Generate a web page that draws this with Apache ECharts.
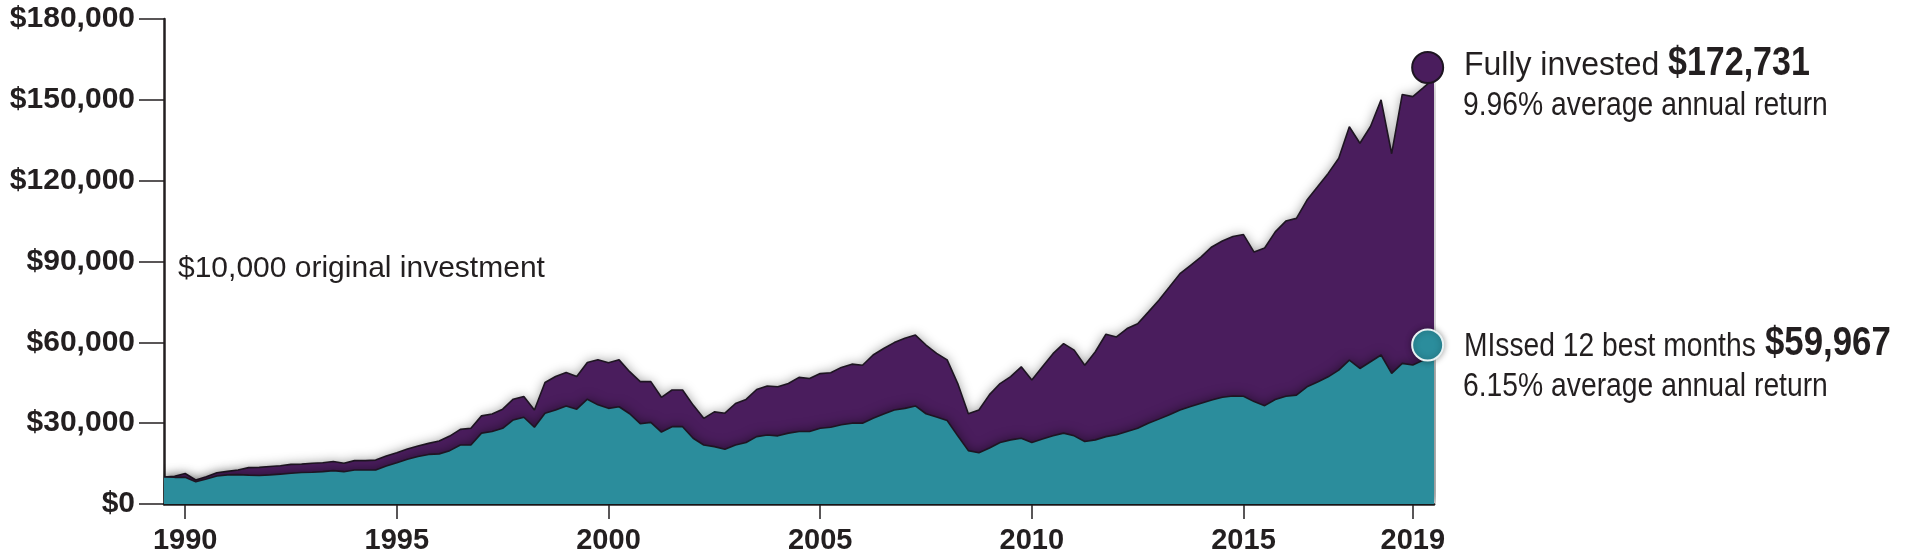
<!DOCTYPE html>
<html>
<head lang="en">
    <meta charset="utf-8">
    <title>Missed best months</title>
    <script src="https://cdn.jsdelivr.net/npm/echarts@6/dist/echarts.min.js"></script>
    <style>
        html, body { margin: 0; padding: 0; background: #fff; }
    </style>
</head>
<body>
    <div id="chart" style="width: 1920px;height:560px;"></div>
    <script type="text/javascript">
        var myChart = echarts.init(document.getElementById('chart'));

        /*--------------------- data ----------------------------*/
        // quarterly samples, first one at mid 1989
        var startYear = 1989.5;
        var step = 0.25;
        var fullyInvested = [
            10000, 10300, 11300, 8900, 10100, 11600, 12100, 12600, 13500, 13600,
            13900, 14200, 14700, 14800, 15100, 15300, 15800, 15100, 16100, 16100,
            16300, 17800, 19000, 20400, 21500, 22500, 23400, 25200, 27700, 28100,
            32700, 33400, 35200, 38900, 39900, 34900, 45100, 47300, 48800, 47300,
            52500, 53500, 52400, 53500, 49100, 45400, 45400, 39600, 42300, 42300,
            36700, 31800, 34200, 33700, 37300, 38800, 42500, 43800, 43500, 44700,
            47000, 46600, 48400, 48700, 50700, 51900, 51500, 55300, 57700, 59900,
            61500, 62700, 59000, 55900, 53500, 44700, 33500, 34900, 40600, 44700,
            47300, 50900, 46000, 50900, 55800, 59500, 57100, 51500, 56500, 63000,
            62000, 65100, 66900, 71200, 75600, 80500, 85500, 88600, 91700, 95400,
            97600, 99300, 100000, 93500, 95000, 101000, 105000, 106000, 112800, 117700,
            122700, 128300, 140000, 133900, 140100, 150000, 130000, 152000, 151200, 154500,
            158000
        ];
        var missedBest = [
            10000, 9900, 9900, 8300, 9300, 10400, 10800, 10900, 10700, 10600,
            10800, 11100, 11400, 11700, 11800, 12000, 12400, 12000, 12600, 12600,
            12600, 14100, 15300, 16600, 17600, 18400, 18600, 19800, 21900, 21900,
            26300, 26900, 28100, 31200, 32200, 28500, 33700, 34900, 36400, 35200,
            38900, 36800, 35500, 36100, 33500, 29800, 30300, 26700, 28700, 28700,
            24400, 21900, 21300, 20300, 21900, 22800, 25000, 25600, 25300, 26300,
            26900, 26900, 28100, 28500, 29400, 30000, 30000, 31800, 33400, 34900,
            35500, 36400, 33500, 32300, 31000, 25300, 19800, 19000, 20800, 22800,
            23800, 24400, 22800, 24100, 25300, 26300, 25300, 23200, 23800, 25000,
            25700, 26900, 28100, 30000, 31500, 33100, 34900, 36200, 37400, 38600,
            39600, 40100, 40000, 38000, 36500, 38800, 40000, 40400, 43500, 45300,
            47200, 49700, 53400, 50300, 52800, 55300, 48500, 52200, 51600, 53400,
            54000
        ];
        var yearLabels = [1990, 1995, 2000, 2005, 2010, 2015, 2019];
        var endPoints = [[2019.35, 162000], [2019.35, 59000]];

        /*--------------------- styles ----------------------------*/
        var ink = '#231f20';
        var purple = '#4a1d5d';
        var teal = '#2b8d9c';
        var outline = '#1e1522';
        var regular = '34px "Liberation Sans", Arial, sans-serif';
        var bold = 'bold 40px "Liberation Sans", Arial, sans-serif';

        function pairs(values) {
            return values.map(function (v, i) {
                return [startYear + i * step, v];
            });
        }

        // annotation text, squeezed a little to look like the condensed face
        function note(text, x, y, font, sx) {
            return {
                type: 'text', x: x, y: y, scaleX: sx,
                style: { text: text, fill: ink, verticalAlign: 'middle', font: font }
            };
        }

        var option = {
            backgroundColor: '#ffffff',
            animation: false,
            grid: {
                left: 164,
                right: 486,
                top: 19,
                bottom: 56
            },
            xAxis: {
                type: 'value',
                min: 1989.5,
                max: 2019.5,
                axisLine: {
                    onZero: false,
                    lineStyle: { color: ink, width: 2.5 }
                },
                axisTick: {
                    customValues: yearLabels,
                    length: 15,
                    lineStyle: { color: ink, width: 1.5 }
                },
                axisLabel: {
                    customValues: yearLabels,
                    margin: 22,
                    color: ink,
                    fontFamily: 'Liberation Sans, Arial, sans-serif',
                    fontWeight: 'bold',
                    fontSize: 29,
                    formatter: function (v) { return String(v); }
                },
                splitLine: { show: false }
            },
            yAxis: {
                type: 'value',
                min: 0,
                max: 180000,
                interval: 30000,
                axisLine: {
                    show: true,
                    lineStyle: { color: ink, width: 2.5 }
                },
                axisTick: {
                    show: true,
                    length: 25,
                    lineStyle: { color: ink, width: 1.5 }
                },
                axisLabel: {
                    margin: 29,
                    color: ink,
                    fontFamily: 'Liberation Sans, Arial, sans-serif',
                    fontWeight: 'bold',
                    fontSize: 30,
                    formatter: function (v) {
                        return '$' + v.toLocaleString('en-US');
                    }
                },
                splitLine: { show: false }
            },
            series: [
                {
                    name: 'Fully invested',
                    type: 'line',
                    data: pairs(fullyInvested),
                    showSymbol: false,
                    z: 2,
                    lineStyle: { color: outline, width: 1.6 },
                    areaStyle: {
                        color: purple,
                        opacity: 1,
                        shadowBlur: 12,
                        shadowColor: 'rgba(0,0,0,0.4)'
                    }
                },
                {
                    name: 'Missed 12 best months',
                    type: 'line',
                    data: pairs(missedBest),
                    showSymbol: false,
                    z: 3,
                    lineStyle: { color: outline, width: 1.6 },
                    areaStyle: {
                        color: teal,
                        opacity: 1,
                        shadowBlur: 12,
                        shadowColor: 'rgba(0,0,0,0.5)'
                    }
                },
                {
                    name: 'end',
                    type: 'scatter',
                    z: 5,
                    symbolSize: 31,
                    data: [
                        {
                            value: endPoints[0],
                            itemStyle: { color: purple, opacity: 1, borderColor: outline, borderWidth: 2 }
                        },
                        {
                            value: endPoints[1],
                            itemStyle: {
                                color: teal, opacity: 1, borderColor: '#e8f2f3', borderWidth: 2,
                                shadowBlur: 6, shadowColor: 'rgba(0,0,0,0.35)'
                            }
                        }
                    ]
                }
            ],
            graphic: [
                {
                    type: 'text', left: 178, top: 254,
                    style: {
                        text: '$10,000 original investment',
                        fill: ink,
                        font: '30px "Liberation Sans", Arial, sans-serif'
                    }
                },
                note('Fully invested', 1464, 66, regular, 0.94),
                note('$172,731', 1668, 64, bold, 0.85),
                note('9.96% average annual return', 1463, 105.5, regular, 0.832),
                note('MIssed 12 best months', 1464, 347, regular, 0.83),
                note('$59,967', 1765, 344, bold, 0.87),
                note('6.15% average annual return', 1463, 387, regular, 0.832)
            ]
        };

        myChart.setOption(option);
    </script>
</body>
</html>
